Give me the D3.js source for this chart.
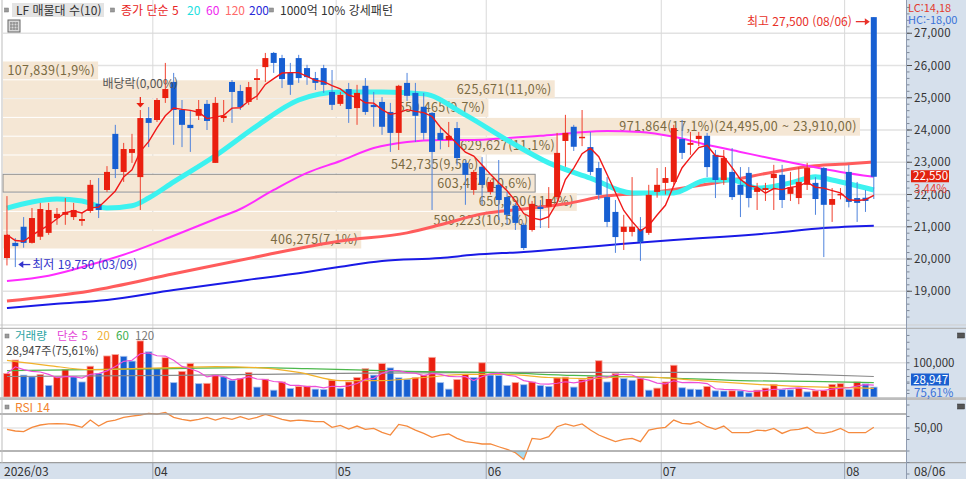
<!DOCTYPE html>
<html lang="ko">
<head>
<meta charset="utf-8">
<title>LF 일봉 차트</title>
<script src="https://cdn.jsdelivr.net/npm/d3@7/dist/d3.min.js"></script>
<style>
body{margin:0;background:#fff;}
svg{display:block;font-family:"Noto Sans CJK KR","Noto Sans",sans-serif;}
</style>
</head>
<body>
<div id="chart"></div>
<script>
// 거래일: 2026-03-06 ~ 2026-08-06 (주말, 휴장일 제외)
var firstDay = "2026-03-06", lastDay = "2026-08-06";
var holidays = ["2026-05-01", "2026-05-05", "2026-05-25", "2026-06-03", "2026-07-17"];
var dividendDate = "2026-03-30"; // 배당락

// 일봉 (원)
var open = [20030,20500,21000,20500,20690,20810,21270,21370,21300,21180,
  21490,21710,22140,23880,22700,23290,22540,24370,24310,24990,
  25490,24620,24160,24440,24810,22980,24370,25490,25210,24870,
  25550,25950,26390,26230,25770,26230,25920,25610,25920,25180,
  24810,25270,24680,25370,24780,24870,24560,23910,25460,25150,
  24720,24530,23910,23690,24060,22980,22140,22860,22080,22300,
  21920,21650,21060,20900,21620,21620,21920,23660,24100,23760,
  23470,22820,21920,21460,20840,20840,20930,20810,22080,22360,
  22390,23720,23540,23720,23820,23230,22450,22700,22300,22670,
  22080,22140,22510,22610,22020,21890,22300,22360,22820,21680,
  21980,22700,21890,21900,27500];
var high = [21950,20650,21300,21580,21740,21740,21580,21890,21740,21430,
  22450,22510,22880,24160,23600,23880,24620,24710,24990,26080,
  25770,24930,24620,24930,24930,25020,24930,25550,25400,25490,
  25890,26390,26420,26330,26080,26330,26020,25800,26020,25860,
  25180,25460,25400,25610,25180,25020,24840,25400,25770,25460,
  25150,24560,24060,24250,24250,23070,22760,23160,22450,23070,
  22080,21740,21120,21800,21830,22230,23910,24470,24160,24620,
  23940,23010,22540,21830,21370,22540,21300,22300,22820,22850,
  24160,24310,23940,23940,23910,23380,23380,23440,22850,22850,
  22360,22360,22920,22920,22700,22850,22980,22540,22850,22200,
  22200,22920,22390,22140,27500];
var low = [19800,19750,20350,20480,20590,20750,21060,21060,21210,21030,
  21430,21270,22080,22510,22390,22980,21520,23470,24250,24840,
  23540,23470,23320,24310,24000,22980,24250,24220,24620,24780,
  24930,25490,25770,25300,25090,25460,25400,25240,25150,24620,
  24750,24220,24160,24470,24100,23850,23320,23380,24900,23630,
  23700,21520,23400,23470,22900,21680,21990,21680,22000,21210,
  21060,20900,20280,20850,20960,20960,21850,22860,23350,23500,
  22600,21830,20990,20190,20280,20700,19940,20750,21900,22000,
  22300,23100,23230,23500,22540,21890,22300,21830,21300,21600,
  21520,21800,21520,21580,21800,21700,22140,21370,20060,21150,
  21850,21600,21150,21460,21860];
var close = [20750,20400,20500,21270,21550,21520,21400,21460,21520,21240,
  22300,21520,22700,22790,23410,23410,24370,24220,24930,25270,
  24620,24160,24060,24650,24280,24840,24440,25180,24710,25330,
  25610,26230,26080,25580,25400,25610,25640,25460,25400,24780,
  25090,24650,25150,24560,24710,24100,23910,25370,25060,24440,
  23910,23320,23690,23820,23130,22610,22700,22300,22390,21830,
  21370,21120,20340,21710,21550,21860,23290,23910,23480,23790,
  22700,21990,21150,20680,21000,21000,20530,21990,22300,22510,
  24060,23290,23600,23820,22850,22450,23130,21920,21990,21890,
  22200,22200,22640,21830,22230,22390,22820,21860,21680,21860,
  22020,21770,21740,21800,22550];
// 거래량 (주)
var volume = [68600,108000,64000,59000,66000,34000,59000,80000,59000,44000,
  90000,69000,120000,124000,119000,105000,164000,132000,83000,115000,
  42000,75000,98000,39000,40000,64000,59000,49000,54000,72000,
  29000,52000,20000,44000,25000,31000,32000,23000,22000,49000,
  25000,44000,57000,83000,64000,98000,85000,56000,52000,56500,
  64000,116000,42000,23000,51000,66000,57000,100000,64000,63000,
  34000,42000,36000,44000,34000,31000,56000,58000,29000,51000,
  59000,106000,44000,69000,54000,49000,54000,20000,26000,44000,
  93000,27000,23000,22000,31000,18000,17500,18200,17900,12000,
  20000,26000,37000,22000,21000,26000,15000,18000,19000,37000,
  39000,22000,44000,38285,28947];
// RSI 14
var rsi = [48.8,47.4,46.8,50.6,52.6,53.5,53.7,53.5,52.6,50.6,
  56.9,51.7,55.5,56.9,59.2,60.4,61.3,62.7,62.1,63.6,
  59.2,57.5,56.3,57.5,59.2,56.9,59.0,57.5,59.8,57.5,
  59.2,61.9,59.8,57.5,56.1,56.9,56.3,55.5,55.5,50.6,
  52.3,49.1,51.7,48.8,49.7,46.2,43.9,53.1,51.7,48.2,
  45.3,41.8,43.9,44.8,41.0,38.1,37.2,36.1,36.1,33.7,
  31.4,28.5,22.7,41.0,40.1,42.4,51.1,53.5,51.7,53.5,
  48.2,43.9,41.0,38.1,40.1,41.0,38.1,48.2,49.7,50.6,
  56.9,54.0,53.5,55.5,51.1,48.8,51.7,45.9,45.9,45.9,
  48.2,47.6,49.7,45.3,48.2,48.8,50.6,45.9,45.3,46.8,
  49.7,45.9,45.9,45.9,50.6];

// 이동평균 (차트에서 읽은 값, [거래일 순번, 값])
var ma20 = [[0,21580],[3,21770],[6,21860],[9,21800],[12,21580],[15,21650],[17,21890],[20,22390],[25,23200],[30,24130],[35,24930],[40,25180],[45,25180],[50,25120],[55,24470],[60,23690],[65,22980],[70,22510],[75,22050],[80,22050],[84,22450],[87,22450],[90,22200],[94,22360],[97,22550],[99,22450],[104,22140]];
var ma60 = [[0,19320],[5,19480],[10,19820],[15,20220],[20,20720],[25,21240],[28,21550],[32,22140],[36,22670],[40,23040],[44,23440],[48,23630],[52,23690],[56,23690],[60,23750],[64,23820],[68,23910],[72,23970],[76,23940],[80,23790],[84,23540],[88,23320],[92,23100],[96,22890],[100,22700],[104,22550]];
var ma120 = [[0,18700],[10,19010],[20,19540],[30,20070],[40,20560],[48,20810],[52,21060],[57,21400],[62,21550],[67,21710],[72,21960],[77,22050],[82,22240],[87,22450],[92,22700],[97,22890],[101,22950],[104,23010]];
var ma200 = [[0,18480],[6,18610],[12,18730],[20,19040],[28,19320],[36,19600],[40,19760],[45,19940],[52,20030],[56,20130],[62,20220],[68,20340],[74,20470],[80,20590],[86,20690],[92,20810],[98,20960],[104,21030]];
var volMa20 = [[0,107000],[5,92000],[10,80000],[15,83000],[20,86000],[25,89000],[30,86000],[35,72000],[40,48000],[45,48000],[50,57000],[55,66000],[60,66000],[65,57000],[70,54000],[75,60000],[80,54000],[85,45000],[90,37000],[95,31000],[100,28000],[104,25000]];
var volMa60 = [[0,77000],[10,80000],[20,83000],[28,86000],[36,83000],[48,75000],[58,72000],[68,63000],[78,57000],[88,48000],[98,45000],[104,42000]];
var volMa120 = [[0,60000],[20,63000],[40,69000],[60,72000],[80,72000],[92,69000],[96,66000],[104,60000]];

// 매물대 (위 가격대부터 10개)
var profileVol = [107839, 625671, 550465, 971864, 629627, 542735, 603474, 650690, 599223, 406275];
var profileHigh = 26140, profileLow = 20310;
var peakRange = [24495, 23910];

var priceTicks = [19000, 20000, 21000, 22000, 23000, 24000, 25000, 26000, 27000];
var volTicks = [100000];

// ---------------------------------------------------------------
var width = 966, height = 479;
var UP = "#ea1f0f", DN = "#175fd2";
var fmtInt = d3.format(",");
function dec(v, k) {
  return d3.format(",." + k + "f")(v).replace(/\.(\d+)$/, ",$1").replace("\u2212", "-");
}
function sma(arr, k) {
  return arr.map(function(v, i) { return d3.mean(arr.slice(Math.max(0, i - k + 1), i + 1)); });
}
function tradingDays(from, to, skip) {
  var parse = d3.timeParse("%Y-%m-%d"), f = d3.timeFormat("%Y-%m-%d");
  return d3.timeDay.range(parse(from), d3.timeDay.offset(parse(to), 1)).filter(function(d) {
    return d.getDay() !== 0 && d.getDay() !== 6 && skip.indexOf(f(d)) < 0;
  });
}

var days = tradingDays(firstDay, lastDay, holidays);
var n = close.length;
var isoFmt = d3.timeFormat("%Y-%m-%d"), mdFmt = d3.timeFormat("%m/%d");

var x = d3.scaleBand().domain(d3.range(n)).range([2.8, 2.8 + 8.335 * n]);
function cx(i) { return x(i) + x.step() / 2; }
var y = d3.scaleLinear().domain([18000, 28000]).range([323.5, 1]);
var yv = d3.scaleLinear().domain([0, 200000]).range([397, 328.6]);
var yr = d3.scaleLinear().domain([0, 100]).range([485.5, 370.5]);

var svg = d3.select("#chart").append("svg")
    .attr("width", width)
    .attr("height", height);

// panels
svg.append("rect").attr("width", width).attr("height", height).attr("fill", "#fff");
svg.append("rect").attr("x", 906).attr("y", 0).attr("width", 60).attr("height", height).attr("fill", "#d6e0ec");
svg.append("rect").attr("x", 0).attr("y", 463).attr("width", 906).attr("height", 16).attr("fill", "#d6e0ec");

// grid
var grid = svg.append("g");
grid.selectAll("line.h").data(priceTicks).join("line")
    .attr("x1", 3).attr("x2", 906)
    .attr("y1", function(d) { return y(d); }).attr("y2", function(d) { return y(d); })
    .attr("stroke", "#e2e2e2").attr("stroke-width", 1.6);
var monthStarts = d3.range(1, n).filter(function(i) { return days[i].getMonth() !== days[i - 1].getMonth(); });
grid.selectAll("line.v").data(monthStarts).join("line")
    .attr("x1", function(i) { return x(i); }).attr("x2", function(i) { return x(i); })
    .attr("y1", 0).attr("y2", 479)
    .attr("stroke", "#d9d9d9").attr("stroke-width", 1);
grid.selectAll("line.vg").data(volTicks).join("line")
    .attr("x1", 3).attr("x2", 906)
    .attr("y1", function(d) { return yv(d); }).attr("y2", function(d) { return yv(d); })
    .attr("stroke", "#e2e2e2").attr("stroke-width", 1.4);
grid.append("line").attr("x1", 3).attr("x2", 906).attr("y1", yr(50)).attr("y2", yr(50))
    .attr("stroke", "#e6e6e6").attr("stroke-width", 1.4);

// 매물대
var bandH = (profileHigh - profileLow) / profileVol.length;
var maxPV = d3.max(profileVol), sumPV = d3.sum(profileVol);
var pw = d3.scaleLinear().domain([0, maxPV]).range([0, 857]);
var curBand = Math.floor((profileHigh - close[n - 1]) / bandH);
var prof = svg.append("g");
prof.selectAll("rect").data(profileVol).join("rect")
    .attr("x", 3)
    .attr("y", function(d, k) { return y(profileHigh - k * bandH) + 0.5; })
    .attr("width", function(d) { return pw(d); })
    .attr("height", y(profileHigh - bandH) - y(profileHigh) - 1)
    .attr("fill", "#f5e7d5")
    .attr("stroke", function(d, k) { return k === curBand ? "#8d8d8d" : "none"; });
prof.selectAll("text").data(profileVol).join("text")
    .attr("x", function(d) { return 3 + pw(d) - 3; })
    .attr("y", function(d, k) { return y(profileHigh - (k + 0.5) * bandH) + 4.5; })
    .attr("text-anchor", "end")
    .attr("font-size", "12.5px").attr("letter-spacing", "0.4px")
    .attr("fill", "#7a6a42")
    .text(function(d) {
      var t = fmtInt(d) + "(" + dec(d / sumPV * 100, 1) + "%)";
      if (d === maxPV) t += "(" + dec(peakRange[0], 2) + " ~ " + dec(peakRange[1], 2) + ")";
      return t;
    });

// moving averages
function maPath(pts, ys) {
  return d3.line().x(function(d) { return cx(d[0]); }).y(function(d) { return ys(d[1]); })
    .curve(d3.curveMonotoneX)(pts);
}
var maG = svg.append("g").attr("fill", "none");
maG.append("path").attr("d", maPath(ma200, y)).attr("stroke", "#1a1ae6").attr("stroke-width", 2);
maG.append("path").attr("d", maPath(ma120, y)).attr("stroke", "#ff5c5c").attr("stroke-width", 3);
maG.append("path").attr("d", maPath(ma60, y)).attr("stroke", "#ff2cff").attr("stroke-width", 2);
maG.append("path").attr("d", maPath(ma20, y)).attr("stroke", "#3cf2f0").attr("stroke-width", 5);

// candles
var cg = svg.append("g");
var idx = d3.range(n);
function candleCol(i) { return close[i] >= open[i] ? UP : DN; }
cg.selectAll("line").data(idx).join("line")
    .attr("x1", cx).attr("x2", cx)
    .attr("y1", function(i) { return y(high[i]); })
    .attr("y2", function(i) { return y(low[i]); })
    .attr("stroke", function(i) { return close[i] >= open[i] ? "#f0402e" : "#4f83dd"; })
    .attr("stroke-width", 1);
cg.selectAll("rect").data(idx).join("rect")
    .attr("x", function(i) { return cx(i) - 3; })
    .attr("width", 6)
    .attr("y", function(i) { return y(Math.max(open[i], close[i])); })
    .attr("height", function(i) { return Math.max(1.5, Math.abs(y(open[i]) - y(close[i]))); })
    .attr("fill", candleCol);

// 5일 이동평균
var ma5 = sma(close, 5);
svg.append("path").datum(ma5)
    .attr("d", d3.line().x(function(d, i) { return cx(i); }).y(function(d) { return y(d); }))
    .attr("fill", "none").attr("stroke", "#f01818").attr("stroke-width", 1.4);

// annotations
var hiIdx = d3.maxIndex(high), loIdx = d3.minIndex(low);
var ann = svg.append("g").attr("font-size", "12px");
var hy = y(high[hiIdx]) + 4.5;
ann.append("text").attr("x", cx(hiIdx) - 22).attr("y", hy + 4.5).attr("text-anchor", "end")
    .attr("fill", "#e8312a").text("최고 " + fmtInt(high[hiIdx]) + " (" + mdFmt(days[hiIdx]) + ")");
ann.append("line").attr("x1", cx(hiIdx) - 18).attr("x2", cx(hiIdx) - 8).attr("y1", hy).attr("y2", hy)
    .attr("stroke", "#e8312a").attr("stroke-width", 1.3);
ann.append("path").attr("d", "M" + (cx(hiIdx) - 9) + "," + (hy - 3.5) + "L" + (cx(hiIdx) - 4) + "," + hy + "L" + (cx(hiIdx) - 9) + "," + (hy + 3.5) + "Z")
    .attr("fill", "#e8312a");
var ly = y(low[loIdx]) - 2.5;
ann.append("path").attr("d", "M" + (cx(loIdx) + 3) + "," + ly + "L" + (cx(loIdx) + 8) + "," + (ly - 3.5) + "L" + (cx(loIdx) + 8) + "," + (ly + 3.5) + "Z")
    .attr("fill", "#3434cc");
ann.append("line").attr("x1", cx(loIdx) + 7).attr("x2", cx(loIdx) + 15).attr("y1", ly).attr("y2", ly)
    .attr("stroke", "#3434cc").attr("stroke-width", 1.3);
ann.append("text").attr("x", cx(loIdx) + 17).attr("y", ly + 4.5)
    .attr("fill", "#3434cc").text("최저 " + fmtInt(low[loIdx]) + " (" + mdFmt(days[loIdx]) + ")");
var dIdx = days.map(isoFmt).indexOf(dividendDate);
var dy = y(high[dIdx]);
ann.append("text").attr("x", cx(dIdx)).attr("y", dy - 22).attr("text-anchor", "middle")
    .attr("fill", "#555").text("배당락(0,00%)");
ann.append("line").attr("x1", cx(dIdx)).attr("x2", cx(dIdx)).attr("y1", dy - 13).attr("y2", dy - 6)
    .attr("stroke", UP).attr("stroke-width", 1.2);
ann.append("path").attr("d", "M" + (cx(dIdx) - 4) + "," + (dy - 7) + "L" + (cx(dIdx) + 4) + "," + (dy - 7) + "L" + cx(dIdx) + "," + (dy - 2.5) + "Z")
    .attr("fill", UP);

// volume
var vg = svg.append("g");
vg.selectAll("rect").data(idx).join("rect")
    .attr("x", function(i) { return cx(i) - 3.3; })
    .attr("width", 6.6)
    .attr("y", function(i) { return yv(volume[i]); })
    .attr("height", function(i) { return yv(0) - yv(volume[i]); })
    .attr("fill", function(i) { return i === 0 || volume[i] >= volume[i - 1] ? UP : DN; })
    .attr("stroke", function(i) { return i === 0 || volume[i] >= volume[i - 1] ? "#f7a99e" : "#a6c0ea"; })
    .attr("stroke-width", 0.8);
var vma5 = sma(volume, 5);
var vmaG = svg.append("g").attr("fill", "none").attr("stroke-width", 1.2);
vmaG.append("path").attr("d", maPath(volMa120, yv)).attr("stroke", "#8a8a8a");
vmaG.append("path").attr("d", maPath(volMa60, yv)).attr("stroke", "#4cb84c");
vmaG.append("path").attr("d", maPath(volMa20, yv)).attr("stroke", "#f2b12a");
vmaG.append("path").datum(vma5)
    .attr("d", d3.line().x(function(d, i) { return cx(i); }).y(function(d) { return yv(d); }))
    .attr("stroke", "#ec4fd8");

// RSI
svg.append("clipPath").attr("id", "rsiLow").append("rect")
    .attr("x", 0).attr("y", yr(30)).attr("width", 906).attr("height", yr(0) - yr(30));
svg.append("path").datum(rsi)
    .attr("d", d3.area().x(function(d, i) { return cx(i); }).y0(yr(30)).y1(function(d) { return yr(d); }))
    .attr("fill", "#a8dcf0").attr("clip-path", "url(#rsiLow)");
svg.append("path").datum(rsi)
    .attr("d", d3.line().x(function(d, i) { return cx(i); }).y(function(d) { return yr(d); }))
    .attr("fill", "none").attr("stroke", "#f58a3e").attr("stroke-width", 1.3);

// separators
var sep = svg.append("g");
sep.append("line").attr("x1", 0).attr("x2", width).attr("y1", 325).attr("y2", 325).attr("stroke", "#cfcfcf");
sep.append("line").attr("x1", 0).attr("x2", width).attr("y1", 328.3).attr("y2", 328.3).attr("stroke", "#a8a8a8");
sep.append("line").attr("x1", 0).attr("x2", width).attr("y1", 398.6).attr("y2", 398.6).attr("stroke", "#bdbdbd").attr("stroke-width", 2.6);
sep.append("line").attr("x1", 0).attr("x2", 906).attr("y1", 414).attr("y2", 414).attr("stroke", "#9d9d9d").attr("stroke-width", 1.3);
sep.append("line").attr("x1", 0).attr("x2", 906).attr("y1", yr(30)).attr("y2", yr(30)).attr("stroke", "#9d9d9d").attr("stroke-width", 1.3);
sep.append("line").attr("x1", 0).attr("x2", width).attr("y1", 462.7).attr("y2", 462.7).attr("stroke", "#9d9d9d").attr("stroke-width", 1.3);
sep.append("line").attr("x1", 906.5).attr("x2", 906.5).attr("y1", 0).attr("y2", height).attr("stroke", "#8f9bb0");
sep.append("line").attr("x1", 2).attr("x2", 2).attr("y1", 0).attr("y2", 463).attr("stroke", "#bdbdbd");
sep.selectAll("line.mt").data(monthStarts).join("line")
    .attr("x1", function(i) { return x(i); }).attr("x2", function(i) { return x(i); })
    .attr("y1", 463).attr("y2", 479).attr("stroke", "#9aa4b4");

// right axis
var ax = svg.append("g").attr("font-size", "11.5px");
var minorP = d3.range(18200, 28000, 200);
ax.selectAll("line.mp").data(minorP).join("line")
    .attr("x1", 907).attr("x2", 909.5)
    .attr("y1", function(d) { return y(d); }).attr("y2", function(d) { return y(d); })
    .attr("stroke", "#7d8797");
ax.selectAll("line.tp").data(priceTicks).join("line")
    .attr("x1", 907).attr("x2", 912)
    .attr("y1", function(d) { return y(d); }).attr("y2", function(d) { return y(d); })
    .attr("stroke", "#555");
ax.selectAll("text.tp").data(priceTicks).join("text")
    .attr("x", 914).attr("y", function(d) { return y(d) + 4; })
    .attr("fill", "#333").attr("letter-spacing", "0.3px").text(fmtInt);
var minorV = d3.range(20000, 200000, 20000);
ax.selectAll("line.mv").data(minorV).join("line")
    .attr("x1", 907).attr("x2", 909.5)
    .attr("y1", function(d) { return yv(d); }).attr("y2", function(d) { return yv(d); })
    .attr("stroke", "#7d8797");
ax.selectAll("text.tv").data(volTicks).join("text")
    .attr("x", 913).attr("y", function(d) { return yv(d) + 4; })
    .attr("fill", "#333").text(fmtInt);
ax.selectAll("line.mr").data(d3.range(10, 100, 10)).join("line")
    .attr("x1", 907).attr("x2", 909.5)
    .attr("y1", function(d) { return yr(d); }).attr("y2", function(d) { return yr(d); })
    .attr("stroke", "#7d8797");
ax.append("text").attr("x", 914).attr("y", yr(50) + 4).attr("fill", "#333").text(dec(50, 2));

var last = close[n - 1], prev = close[n - 2];
var maxH = d3.max(high), minL = d3.min(low);
ax.append("text").attr("x", 908).attr("y", 11.5).attr("font-size", "11px").attr("fill", "#e23a2e")
    .text("LC:" + dec((last / minL - 1) * 100, 2));
ax.append("text").attr("x", 908).attr("y", 24).attr("font-size", "11px").attr("fill", "#3a72d8")
    .text("HC:" + dec((last / maxH - 1) * 100, 2));
ax.append("rect").attr("x", 911).attr("y", y(last) - 6.5).attr("width", 38).attr("height", 12).attr("fill", "#e2220f");
ax.append("text").attr("x", 913).attr("y", y(last) + 3.5).attr("fill", "#fff").text(fmtInt(last));
ax.append("text").attr("x", 914).attr("y", y(last) + 16.5).attr("fill", "#e8463a")
    .text(dec((last / prev - 1) * 100, 2) + "%");
var lv = volume[n - 1], pv = volume[n - 2];
ax.append("rect").attr("x", 911).attr("y", 373.5).attr("width", 38).attr("height", 12).attr("fill", "#1a5fd0");
ax.append("text").attr("x", 913).attr("y", 383.5).attr("fill", "#fff").text(fmtInt(lv));
ax.append("text").attr("x", 914).attr("y", 396.5).attr("fill", "#3a72d8").text(dec(lv / pv * 100, 2) + "%");
[333, 404].forEach(function(t) {
  ax.append("rect").attr("x", 957.5).attr("y", t).attr("width", 7).attr("height", 5)
    .attr("fill", "#555").attr("stroke", "#333").attr("stroke-width", 0.5);
});

// x axis
var xa = svg.append("g").attr("font-size", "12px").attr("fill", "#333");
xa.append("text").attr("x", 4).attr("y", 476).text(d3.timeFormat("%Y/%m")(days[0]));
xa.selectAll("text.m").data(monthStarts).join("text")
    .attr("x", function(i) { return x(i) + 1.5; }).attr("y", 476)
    .text(function(i) { return d3.timeFormat("%m")(days[i]); });
xa.append("text").attr("x", 914).attr("y", 476).text(mdFmt(days[n - 1]));

// legends
var lg = svg.append("g").attr("font-size", "12px");
function sq(xp, yp) {
  lg.append("rect").attr("x", xp).attr("y", yp).attr("width", 4).attr("height", 4)
    .attr("fill", "#9a9a9a").attr("stroke", "#777").attr("stroke-width", 0.5);
}
sq(4.5, 8); sq(110.5, 8); sq(269.5, 8);
lg.append("rect").attr("x", 12).attr("y", 3).attr("width", 92).attr("height", 14).attr("fill", "#e4e4e4");
lg.append("text").attr("x", 16).attr("y", 15).attr("fill", "#333").text("LF 매물대 수(" + profileVol.length + ")");
[["종가 단순 5", 121, "#e82424"], ["20", 187, "#22e0e0"], ["60", 206, "#f028f0"],
 ["120", 225, "#ff6a6a"], ["200", 249, "#2a2ad8"], ["1000억 10% 강세패턴", 280, "#333"]].forEach(function(d) {
  lg.append("text").attr("x", d[1]).attr("y", 15).attr("fill", d[2]).text(d[0]);
});
var ic = lg.append("g").attr("transform", "translate(8,20)");
ic.append("rect").attr("width", 12).attr("height", 12).attr("fill", "#d8d8d8").attr("stroke", "#666");
[3, 6, 9].forEach(function(t) {
  ic.append("line").attr("x1", t).attr("x2", t).attr("y1", 2).attr("y2", 10).attr("stroke", "#777").attr("stroke-width", 0.8);
  ic.append("line").attr("x1", 2).attr("x2", 10).attr("y1", t).attr("y2", t).attr("stroke", "#777").attr("stroke-width", 0.8);
});
sq(5, 334);
[["거래량", 15, "#2aa3a3"], ["단순 5", 57, "#e448d8"], ["20", 97, "#f0b030"],
 ["60", 116, "#3cb04c"], ["120", 135, "#777"]].forEach(function(d) {
  lg.append("text").attr("x", d[1]).attr("y", 339.5).attr("font-size", "11.5px").attr("fill", d[2]).text(d[0]);
});
lg.append("text").attr("x", 6).attr("y", 354.5).attr("font-size", "11.5px").attr("fill", "#444")
    .text(fmtInt(lv) + "주(" + dec(lv / pv * 100, 2) + "%)");
sq(5, 405);
lg.append("text").attr("x", 15).attr("y", 411.5).attr("fill", "#f28430").text("RSI 14");
</script>
</body>
</html>
